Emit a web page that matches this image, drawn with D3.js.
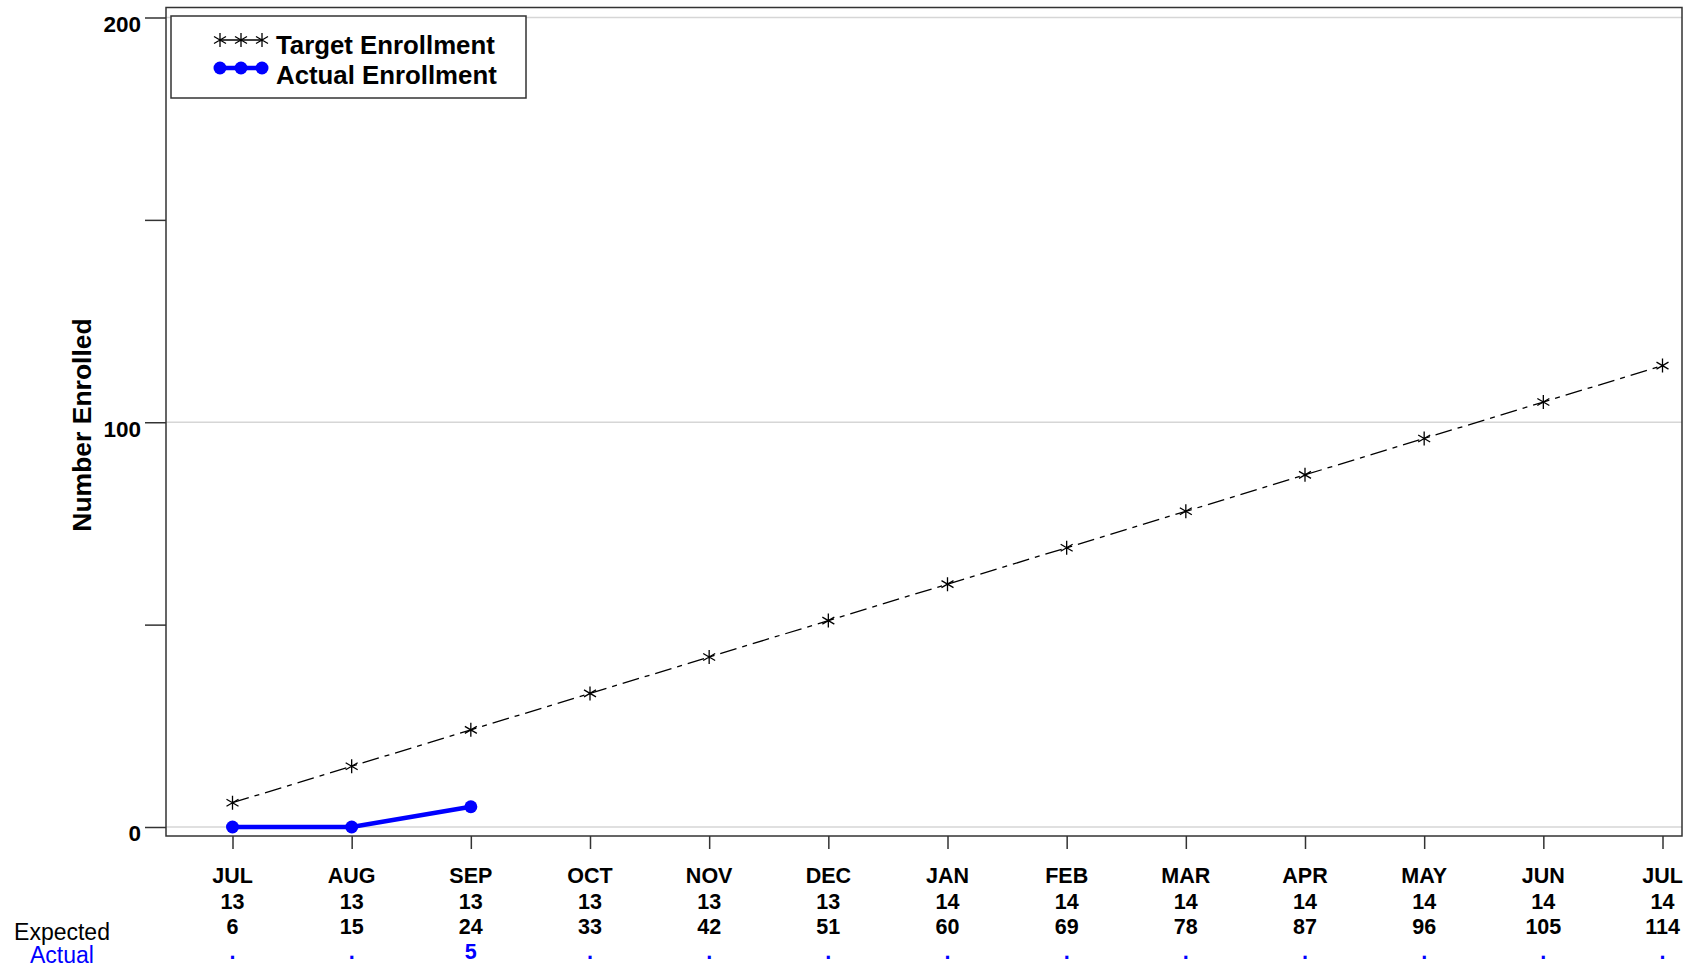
<!DOCTYPE html>
<html>
<head>
<meta charset="utf-8">
<script src="https://cdn.jsdelivr.net/npm/d3@7"></script>
<style>
  html, body { margin: 0; padding: 0; background: #fff; }
  svg { display: block; font-family: "Liberation Sans", Arial, sans-serif; }
</style>
</head>
<body>
<svg id="chart" width="1696" height="971"></svg>
<script>
// ---- data ----
const months = ["JUL", "AUG", "SEP", "OCT", "NOV", "DEC", "JAN", "FEB", "MAR", "APR", "MAY", "JUN", "JUL"];
const years = ["13", "13", "13", "13", "13", "13", "14", "14", "14", "14", "14", "14", "14"];
const targetValues = [6, 15, 24, 33, 42, 51, 60, 69, 78, 87, 96, 105, 114];
const actualValues = [0, 0, 5];
const actualLabels = [".", ".", "5", ".", ".", ".", ".", ".", ".", ".", ".", ".", "."];
const yTicks = [0, 50, 100, 150, 200];
const yLabelTicks = [0, 100, 200];
const gridValues = [0, 100, 200];

// ---- layout ----
const frame = { left: 166, top: 7.5, right: 1682, bottom: 836 };
const svg = d3.select("#chart");

const x = d3.scaleLinear().domain([0, months.length - 1]).range([232.5, 1662.5]);
const y = d3.scaleLinear().domain([0, 200]).range([827, 17.5]);

// gridlines
svg.append("g").selectAll("line").data(gridValues).join("line")
  .attr("x1", frame.left).attr("x2", frame.right)
  .attr("y1", d => y(d)).attr("y2", d => y(d))
  .attr("stroke", "#d6d6d6").attr("stroke-width", 1.5);

// frame
svg.append("rect")
  .attr("x", frame.left).attr("y", frame.top)
  .attr("width", frame.right - frame.left).attr("height", frame.bottom - frame.top)
  .attr("fill", "none").attr("stroke", "#333").attr("stroke-width", 1.5);

// y axis
const yAxis = d3.axisLeft(y).tickValues(yTicks).tickSize(21).tickPadding(4)
  .tickFormat(d => yLabelTicks.includes(d) ? d : "");
const gy = svg.append("g").attr("transform", `translate(${frame.left},0)`).call(yAxis);
gy.select(".domain").remove();
gy.selectAll(".tick line").attr("stroke", "#333").attr("stroke-width", 1.5);
gy.selectAll(".tick text")
  .attr("font-family", "Liberation Sans, Arial, sans-serif")
  .attr("font-size", 22.5).attr("font-weight", "bold").attr("fill", "#000")
  .attr("dy", "0.62em");

// x axis
const xAxis = d3.axisBottom(x).tickValues(d3.range(months.length)).tickSize(13).tickFormat("");
const gx = svg.append("g").attr("transform", `translate(0,${frame.bottom})`).call(xAxis);
gx.select(".domain").remove();
gx.selectAll(".tick line").attr("stroke", "#333").attr("stroke-width", 1.5);

// x labels rows
const rowFont = "Liberation Sans, Arial, sans-serif";
const rows = [
  { vals: months, y: 876, color: "#000" },
  { vals: years, y: 901.5, color: "#000" },
  { vals: targetValues.map(String), y: 927, color: "#000" },
  { vals: actualLabels, y: 952, color: "#0000ff" }
];
rows.forEach(r => {
  svg.append("g").selectAll("text").data(r.vals).join("text")
    .attr("x", (d, i) => x(i)).attr("y", r.y)
    .attr("text-anchor", "middle").attr("dominant-baseline", "central")
    .attr("font-family", rowFont).attr("font-size", 21.5).attr("font-weight", "bold")
    .attr("fill", r.color).text(d => d);
});

svg.append("text").attr("x", 62).attr("y", 932)
  .attr("text-anchor", "middle").attr("dominant-baseline", "central")
  .attr("font-size", 23).attr("fill", "#000").text("Expected");
svg.append("text").attr("x", 62).attr("y", 955)
  .attr("text-anchor", "middle").attr("dominant-baseline", "central")
  .attr("font-size", 23).attr("fill", "#0000ff").text("Actual");

// y title
svg.append("text")
  .attr("transform", "translate(82,425) rotate(-90)")
  .attr("text-anchor", "middle").attr("dominant-baseline", "central")
  .attr("font-size", 26.5).attr("font-weight", "bold").attr("fill", "#000")
  .text("Number Enrolled");

// target line
const starPath = "M0,-7L0,7M-6,-3.5L6,3.5M-6,3.5L6,-3.5";
const lineT = d3.line().x((d, i) => x(i)).y(d => y(d));
svg.append("path").datum(targetValues)
  .attr("d", lineT).attr("fill", "none")
  .attr("stroke", "#000").attr("stroke-width", 1.3)
  .attr("stroke-dasharray", "17,6,5,6");
svg.append("g").selectAll("path").data(targetValues).join("path")
  .attr("transform", (d, i) => `translate(${x(i)},${y(d)})`)
  .attr("d", starPath).attr("stroke", "#000").attr("stroke-width", 1.3).attr("fill", "none");

// actual line
svg.append("path").datum(actualValues)
  .attr("d", lineT).attr("fill", "none")
  .attr("stroke", "#0000ff").attr("stroke-width", 4.5);
svg.append("g").selectAll("circle").data(actualValues).join("circle")
  .attr("cx", (d, i) => x(i)).attr("cy", d => y(d)).attr("r", 6.5)
  .attr("fill", "#0000ff");

// legend
const lg = svg.append("g");
lg.append("rect").attr("x", 171).attr("y", 16).attr("width", 355).attr("height", 82)
  .attr("fill", "#fff").attr("stroke", "#333").attr("stroke-width", 1.5);
const legendXs = [220, 241, 262];
lg.append("line").attr("x1", legendXs[0]).attr("x2", legendXs[2]).attr("y1", 40).attr("y2", 40)
  .attr("stroke", "#000").attr("stroke-width", 1.3);
lg.selectAll(".ls").data(legendXs).join("path").attr("class", "ls")
  .attr("transform", d => `translate(${d},40)`).attr("d", starPath)
  .attr("stroke", "#000").attr("stroke-width", 1.3).attr("fill", "none");
lg.append("line").attr("x1", legendXs[0]).attr("x2", legendXs[2]).attr("y1", 68).attr("y2", 68)
  .attr("stroke", "#0000ff").attr("stroke-width", 4.5);
lg.selectAll(".lc").data(legendXs).join("circle").attr("class", "lc")
  .attr("cx", d => d).attr("cy", 68).attr("r", 6.5).attr("fill", "#0000ff");
const legendNames = ["Target Enrollment", "Actual Enrollment"];
lg.selectAll(".lt").data(legendNames).join("text").attr("class", "lt")
  .attr("x", 276).attr("y", (d, i) => 45 + i * 30)
  .attr("dominant-baseline", "central")
  .attr("font-size", 25.8).attr("font-weight", "bold").attr("fill", "#000").text(d => d);
</script>
</body>
</html>
